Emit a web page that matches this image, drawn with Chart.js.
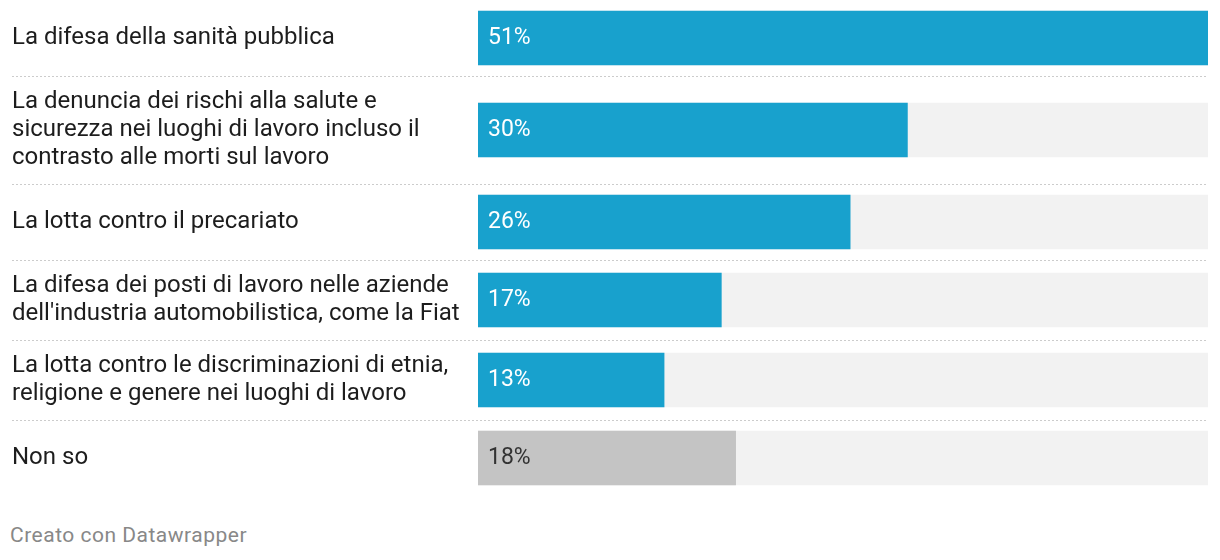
<!DOCTYPE html>
<html>
<head>
<meta charset="utf-8">
<script src="https://cdn.jsdelivr.net/npm/chart.js@4"></script>
<style>
  html, body { margin: 0; padding: 0; background: #fff; }
  #wrap { position: relative; width: 1220px; height: 560px; }
  #chart { position: absolute; left: 0; top: 0; }
  #footer {
    position: absolute; left: 10px; top: 523px;
    font-family: Roboto, sans-serif; font-size: 21px; color: #888;
    letter-spacing: 0.5px;
  }
</style>
</head>
<body>
<div id="wrap">
  <canvas id="chart" width="1220" height="496"></canvas>
  <div id="footer">Creato con Datawrapper</div>
</div>
<script>
// --- DATA ---
const categories = [
    ['La difesa della sanità pubblica'],
    ['La denuncia dei rischi alla salute e', 'sicurezza nei luoghi di lavoro incluso il', 'contrasto alle morti sul lavoro'],
    ['La lotta contro il precariato'],
    ['La difesa dei posti di lavoro nelle aziende', "dell'industria automobilistica, come la Fiat"],
    ['La lotta contro le discriminazioni di etnia,', 'religione e genere nei luoghi di lavoro'],
    ['Non so']
];
const values = [51, 30, 26, 17, 13, 18];
const valueLabels = ['51%', '30%', '26%', '17%', '13%', '18%'];

// --- LAYOUT (rows grow with the number of label lines, like Datawrapper) ---
const LINE_H = 28;
const rowHeights = categories.map(lines => Math.max(76, lines.length * LINE_H + 24));
const rowTops = [];
let acc = 0;
rowHeights.forEach(h => { rowTops.push(acc); acc += h; });
const totalH = acc;
const rowCenters = rowTops.map((t, i) => t + rowHeights[i] / 2);

const maxVal = Math.max(...values);
const BLUE = '#18a1cd';
const GREY = '#c4c4c4';
const isNeutral = i => categories[i][0] === 'Non so';

// --- PLUGINS ---
const separators = {
    id: 'separators',
    beforeDatasetsDraw(chart) {
        const { ctx } = chart;
        const y = chart.scales.y;
        ctx.save();
        ctx.strokeStyle = '#cccccc';
        ctx.lineWidth = 1;
        ctx.setLineDash([2, 2]);
        for (let i = 1; i < rowTops.length; i++) {
            const py = Math.round(y.getPixelForValue(rowTops[i])) + 0.5;
            ctx.beginPath();
            ctx.moveTo(12, py);
            ctx.lineTo(chart.chartArea.right, py);
            ctx.stroke();
        }
        ctx.restore();
    }
};

const valueText = {
    id: 'valueText',
    afterDatasetsDraw(chart) {
        const { ctx } = chart;
        const meta = chart.getDatasetMeta(1);
        ctx.save();
        ctx.font = '23px Roboto, sans-serif';
        ctx.textBaseline = 'middle';
        ctx.textAlign = 'left';
        meta.data.forEach((bar, i) => {
            ctx.fillStyle = isNeutral(i) ? '#333333' : '#ffffff';
            ctx.fillText(valueLabels[i], bar.base + 10, bar.y);
        });
        ctx.restore();
    }
};

// --- CHART ---
new Chart(document.getElementById('chart'), {
    type: 'bar',
    data: {
        datasets: [
            {
                // background track
                data: rowCenters.map(c => ({ x: maxVal, y: c })),
                backgroundColor: '#f2f2f2',
                order: 2
            },
            {
                data: values.map((v, i) => ({ x: v, y: rowCenters[i] })),
                backgroundColor: values.map((v, i) => isNeutral(i) ? GREY : BLUE),
                order: 1
            }
        ]
    },
    options: {
        indexAxis: 'y',
        responsive: false,
        animation: false,
        events: [],
        layout: { padding: { left: 12, right: 12, top: 0, bottom: 0 } },
        datasets: { bar: { barThickness: 54, grouped: false, borderWidth: 0 } },
        plugins: { legend: { display: false }, tooltip: { enabled: false } },
        scales: {
            x: { display: false, min: 0, max: maxVal },
            y: {
                type: 'linear',
                reverse: true,
                offset: false,
                min: 0,
                max: totalH,
                grid: { display: false },
                border: { display: false },
                afterBuildTicks(scale) {
                    scale.ticks = rowCenters.map(v => ({ value: v }));
                },
                afterFit(scale) {
                    scale.width = 466;
                    // labels sit inside their rows, no extra room needed
                    scale.paddingTop = 0;
                    scale.paddingBottom = 0;
                },
                ticks: {
                    autoSkip: false,
                    crossAlign: 'far',
                    padding: 0,
                    color: '#1d1d1d',
                    font: { family: 'Roboto, sans-serif', size: 24, lineHeight: LINE_H / 24 },
                    callback(value) {
                        const i = rowCenters.indexOf(value);
                        return i >= 0 ? categories[i] : '';
                    }
                }
            }
        }
    },
    plugins: [separators, valueText]
});
</script>
</body>
</html>
